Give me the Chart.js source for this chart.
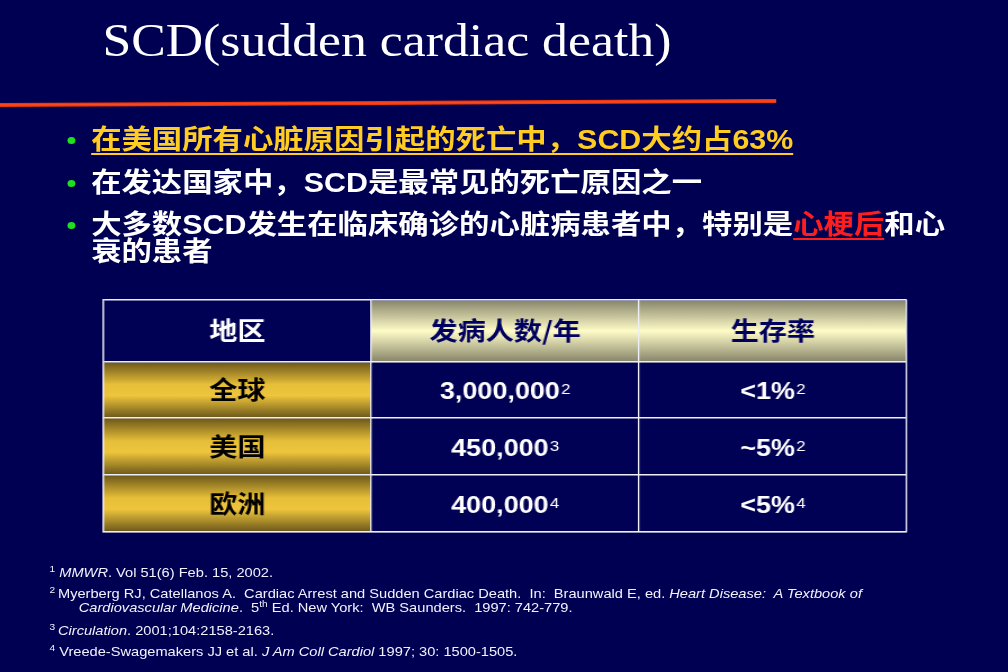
<!DOCTYPE html>
<html>
<head>
<meta charset="utf-8">
<script src="https://cdn.jsdelivr.net/npm/chart.js@4.4.1/dist/chart.umd.min.js"></script>
<style>
  html, body { margin: 0; padding: 0; background: #000052; overflow: hidden; }
  body { width: 1008px; height: 672px; }
  /* slide is laid out at 896 wide and stretched to 1008, like the source */
  #slide {
    position: absolute; left: 0; top: 0; width: 896px; height: 672px;
    transform: scaleX(1.125); transform-origin: 0 0;
    font-family: "Liberation Sans", Arial, "Noto Sans CJK SC", sans-serif;
    color: #fff;
  }
  .title {
    position: absolute; left: 91px; top: 18px; white-space: nowrap;
    font-family: "Liberation Serif", "Times New Roman", serif;
    font-size: 46px; line-height: 46px;
  }
  .rule {
    position: absolute; left: 0; top: 99px; width: 690px; height: 4px;
    background: linear-gradient(#e0300c, #ff4a1c 50%, #e0300c);
    transform: rotate(-0.33deg); transform-origin: 100% 50%;
  }
  .bullet {
    position: absolute; left: 81px; white-space: nowrap;
    font-size: 27px; line-height: 27px; font-weight: bold;
  }
  .bullet::before {
    content: ""; position: absolute; left: -21px; top: 10px;
    width: 7px; height: 7px; border-radius: 50%; background: #1ee01e;
  }
  .yellow { color: #ffcc22; text-decoration: underline; text-decoration-thickness: 2px; text-underline-offset: 4px; }
  .red { color: #ff1e1e; text-decoration: underline; text-decoration-thickness: 2px; text-underline-offset: 4px; }
  #tableBox { position: absolute; left: 90px; top: 298px; width: 718px; height: 236px; }
  .note {
    position: absolute; left: 44px; white-space: pre;
    font-size: 13px; line-height: 14px; color: #f2f2ff;
  }
  .note sup { font-size: 9px; vertical-align: 5px; line-height: 0; }
</style>
</head>
<body>
<div id="slide">
  <div class="title">SCD(sudden cardiac death)</div>
  <div class="rule"></div>

  <div class="bullet" style="top:127px"><span class="yellow">在美国所有心脏原因引起的死亡中，SCD大约占63%</span></div>
  <div class="bullet" style="top:170px">在发达国家中，SCD是最常见的死亡原因之一</div>
  <div class="bullet" style="top:212px">大多数SCD发生在临床确诊的心脏病患者中，特别是<span class="red">心梗后</span>和心<br>衰的患者</div>

  <div id="tableBox"><canvas id="scdTable"></canvas></div>

  <div class="note" style="top:566px"><sup>1</sup> <i>MMWR</i>. Vol 51(6) Feb. 15, 2002.</div>
  <div class="note" style="top:587px"><sup>2 </sup>Myerberg RJ, Catellanos A.  Cardiac Arrest and Sudden Cardiac Death.  In:  Braunwald E, ed. <i>Heart Disease:  A Textbook of</i></div>
  <div class="note" style="top:601px;left:70px"><i>Cardiovascular Medicine</i>.  5<sup>th</sup> Ed. New York:  WB Saunders.  1997: 742-779.</div>
  <div class="note" style="top:624px"><sup>3 </sup><i>Circulation</i>. 2001;104:2158-2163.</div>
  <div class="note" style="top:645px"><sup>4</sup> Vreede-Swagemakers JJ et al. <i>J Am Coll Cardiol</i> 1997; 30: 1500-1505.</div>
</div>

<script>
// table content
const columns = ['地区', '发病人数/年', '生存率'];
const regions = ['全球', '美国', '欧洲'];
const incidence = ['3,000,000', '450,000', '400,000'];
const incidenceRefs = ['2', '3', '4'];
const survival = ['<1%', '~5%', '<5%'];
const survivalRefs = ['2', '2', '4'];

// row heights of the table (header first), in px
const rowHeights = [62, 56, 57, 57];
const rowEdges = [0];
rowHeights.forEach(h => rowEdges.push(rowEdges[rowEdges.length - 1] + h));
const total = rowEdges[rowEdges.length - 1];

const navy = '#000055';
const lineColor = '#eeeef6';

function gradient(chart, top, bottom, stops) {
  const g = chart.ctx.createLinearGradient(0, top, 0, bottom);
  stops.forEach(s => g.addColorStop(s[0], s[1]));
  return g;
}
const goldStops = [[0, '#6a561a'], [0.4, '#e6be38'], [0.6, '#eec53c'], [1, '#6a561a']];
const creamStops = [[0, '#86846a'], [0.5, '#fffcc8'], [1, '#86846a']];

function cellColor(context) {
  const chart = context.chart;
  const row = context.datasetIndex;
  const col = context.dataIndex;
  const header = row === 0;
  const shaded = header ? col > 0 : col === 0;
  if (!shaded || !chart.chartArea) return navy;
  const y = chart.scales.y;
  const top = y.getPixelForValue(rowEdges[row]);
  const bottom = y.getPixelForValue(rowEdges[row + 1]);
  return gradient(chart, top, bottom, header ? creamStops : goldStops);
}

// one dataset per table row, one floating bar per column
const rows = [columns].concat(regions.map((r, i) => [r, incidence[i], survival[i]]));
const refs = [[null, null, null]].concat(regions.map((r, i) => [null, incidenceRefs[i], survivalRefs[i]]));

const datasets = rows.map((cells, r) => ({
  label: 'row' + r,
  data: cells.map(() => [rowEdges[r], rowEdges[r + 1]]),
  backgroundColor: cellColor,
  borderWidth: 0,
  barPercentage: 1,
  categoryPercentage: 1,
  grouped: false
}));

const cellText = {
  id: 'cellText',
  afterDatasetsDraw(chart) {
    const { ctx, scales: { x, y } } = chart;
    ctx.save();
    ctx.textBaseline = 'alphabetic';
    rows.forEach((cells, r) => {
      const yc = (y.getPixelForValue(rowEdges[r]) + y.getPixelForValue(rowEdges[r + 1])) / 2;
      cells.forEach((txt, c) => {
        const xc = x.getPixelForValue(c);
        let font, color;
        if (r === 0) {
          font = 'bold 25px "Noto Sans CJK SC", sans-serif';
          color = c === 0 ? '#ffffff' : '#000060';
        } else if (c === 0) {
          font = 'bold 25px "Noto Sans CJK SC", sans-serif';
          color = '#000000';
        } else {
          font = 'bold 24px "Liberation Sans", Arial, sans-serif';
          color = '#ffffff';
        }
        ctx.font = font;
        const w = ctx.measureText(txt).width;
        const sup = refs[r][c];
        let sw = 0;
        if (sup) {
          ctx.font = '15px "Liberation Sans", Arial, sans-serif';
          sw = ctx.measureText(sup).width + 1;
        }
        const x0 = xc - (w + sw) / 2;
        const base = yc + 9;
        ctx.fillStyle = color;
        ctx.font = font;
        ctx.textAlign = 'left';
        ctx.fillText(txt, x0, base);
        if (sup) {
          ctx.font = '15px "Liberation Sans", Arial, sans-serif';
          ctx.fillText(sup, x0 + w + 1, base - 5);
        }
      });
    });
    ctx.restore();
  }
};

new Chart(document.getElementById('scdTable'), {
  type: 'bar',
  data: { labels: columns, datasets },
  options: {
    responsive: true,
    maintainAspectRatio: false,
    animation: false,
    events: [],
    layout: { padding: 2 },
    plugins: { legend: { display: false }, tooltip: { enabled: false } },
    scales: {
      x: {
        type: 'category',
        offset: true,
        grid: { offset: true, color: lineColor, lineWidth: 1.3, drawTicks: false, z: 1 },
        border: { display: true, color: lineColor, width: 1.3, z: 1 },
        ticks: { display: false }
      },
      y: {
        type: 'linear',
        min: 0,
        max: total,
        reverse: true,
        afterBuildTicks: scale => { scale.ticks = rowEdges.map(v => ({ value: v })); },
        grid: { color: lineColor, lineWidth: 1.5, drawTicks: false, z: 1 },
        border: { display: true, color: lineColor, width: 1.3, z: 1 },
        ticks: { display: false }
      }
    }
  },
  plugins: [cellText]
});
</script>
</body>
</html>
